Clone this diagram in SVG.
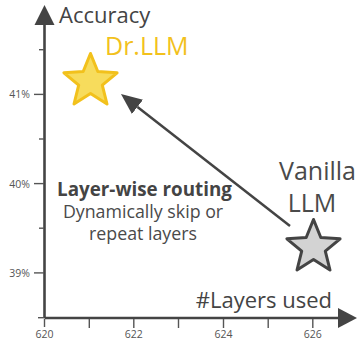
<svg xmlns="http://www.w3.org/2000/svg" width="359" height="340" viewBox="0 0 359 340">
  <style>
    .axis { stroke: #444; stroke-width: 2.6; fill: none; }
    .tick { stroke: #555; stroke-width: 1.4; fill: none; }
    .ticklabel { font-family: "Open Sans", "Liberation Sans", sans-serif; font-size: 10.5px; fill: #555; }
    .axislabel { font-family: "Open Sans", "Liberation Sans", sans-serif; font-size: 22px; fill: #444; }
    .name { font-family: "Open Sans", "Liberation Sans", sans-serif; font-size: 25px; }
    .title { font-family: "Open Sans", "Liberation Sans", sans-serif; font-size: 18.8px; font-weight: bold; fill: #444; }
    .sub { font-family: "Open Sans", "Liberation Sans", sans-serif; font-size: 17.8px; fill: #4a4a4a; }
  </style>
  <defs>
    <marker id="head" markerUnits="userSpaceOnUse" markerWidth="22" markerHeight="20" refX="0" refY="9" orient="auto">
      <path d="M0,0 L21,9 L0,18 z" fill="#444"/>
    </marker>
  </defs>

  <!-- axes -->
  <g id="axes">
    <line class="axis" x1="44.5" y1="24" x2="44.5" y2="318"/>
    <line class="axis" x1="44.5" y1="318" x2="339" y2="318"/>
    <polygon points="44.5,5 34.5,25 54.5,25" fill="#444"/>
    <polygon points="357,318 338,308 338,328" fill="#444"/>
    <!-- y ticks -->
    <line class="tick" x1="39" y1="49.7" x2="44" y2="49.7"/>
    <line class="tick" x1="34" y1="94.4" x2="44" y2="94.4"/>
    <line class="tick" x1="39" y1="139" x2="44" y2="139"/>
    <line class="tick" x1="34" y1="183.6" x2="44" y2="183.6"/>
    <line class="tick" x1="39" y1="228.2" x2="44" y2="228.2"/>
    <line class="tick" x1="34" y1="272.9" x2="44" y2="272.9"/>
    <line class="tick" x1="38" y1="317.7" x2="44" y2="317.7"/>
    <!-- x ticks -->
    <line class="tick" x1="44.5" y1="319" x2="44.5" y2="327"/>
    <line class="tick" x1="89.3" y1="319" x2="89.3" y2="328"/>
    <line class="tick" x1="133.8" y1="319" x2="133.8" y2="328"/>
    <line class="tick" x1="178.5" y1="319" x2="178.5" y2="328"/>
    <line class="tick" x1="223.5" y1="319" x2="223.5" y2="328"/>
    <line class="tick" x1="268.2" y1="319" x2="268.2" y2="328"/>
    <line class="tick" x1="312.8" y1="319" x2="312.8" y2="328"/>
    <!-- tick labels -->
    <text class="ticklabel" x="30" y="98" text-anchor="end">41%</text>
    <text class="ticklabel" x="30" y="187.5" text-anchor="end">40%</text>
    <text class="ticklabel" x="30" y="276.5" text-anchor="end">39%</text>
    <text class="ticklabel" x="44.5" y="337.5" text-anchor="middle">620</text>
    <text class="ticklabel" x="133.8" y="337.5" text-anchor="middle">622</text>
    <text class="ticklabel" x="223.5" y="337.5" text-anchor="middle">624</text>
    <text class="ticklabel" x="312.8" y="337.5" text-anchor="middle">626</text>
    <!-- axis titles -->
    <text class="axislabel" x="59" y="23">Accuracy</text>
    <text class="axislabel" x="332" y="308" text-anchor="end">#Layers used</text>
  </g>

  <!-- connector: baseline model to routed model -->
  <g id="connectors">
    <line x1="290" y1="226" x2="137.5" y2="106.9" stroke="#444" stroke-width="2.5" marker-end="url(#head)"/>
  </g>

  <!-- routed model -->
  <g id="drllm">
    <polygon points="90.5,53.5 97.8,71.5 117.1,72.8 102.3,85.2 107,104 90.5,93.6 74,104 78.7,85.2 63.9,72.8 83.2,71.5"
             fill="#F7DC5C" stroke="#F2C11C" stroke-width="3" stroke-linejoin="round"/>
    <text class="name" x="105" y="55" fill="#F2C11C">Dr.LLM</text>
  </g>

  <!-- baseline model -->
  <g id="vanilla">
    <polygon points="313.5,219.5 320.8,237.5 340.1,238.8 325.3,251.2 330,270 313.5,259.6 297,270 301.7,251.2 286.9,238.8 306.2,237.5"
             fill="#D3D3D3" stroke="#444" stroke-width="3" stroke-linejoin="round"/>
    <text class="name" x="317.5" y="180" text-anchor="middle" fill="#4a4a4a">Vanilla</text>
    <text class="name" x="312" y="212" text-anchor="middle" fill="#4a4a4a">LLM</text>
  </g>

  <!-- annotation -->
  <g id="routing-note">
    <text class="title" x="144.5" y="195.5" text-anchor="middle">Layer-wise routing</text>
    <text class="sub" x="143" y="218" text-anchor="middle">Dynamically skip or</text>
    <text class="sub" x="143" y="240" text-anchor="middle">repeat layers</text>
  </g>
</svg>
